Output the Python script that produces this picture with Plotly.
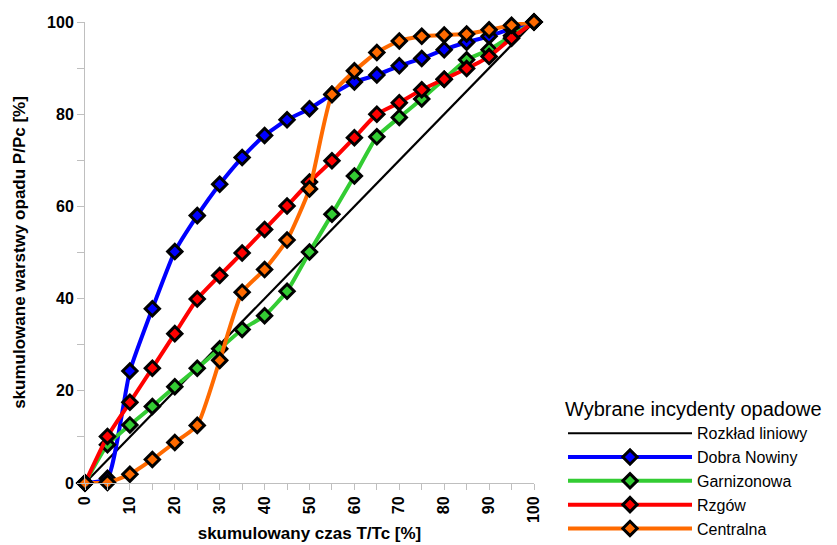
import plotly.graph_objects as go

x_vals = [0, 5, 10, 15, 20, 25, 30, 35, 40, 45, 50, 55, 60, 65, 70, 75, 80, 85, 90, 95, 100]

linear_x = [0, 100]
linear_y = [0, 100]

dobra_nowiny = [0, 1, 24.3, 37.8, 50.2, 58, 64.8, 70.6, 75.4, 78.8, 81.2, 84.3, 87.0, 88.5, 90.5, 92.1, 94.0, 95.6, 96.9, 98.6, 100]
garnizonowa = [0, 8.3, 12.6, 16.6, 20.9, 24.9, 29.1, 33.3, 36.3, 41.6, 50.1, 58.3, 66.6, 75.1, 79.3, 83.3, 87.6, 91.8, 94.0, 97.0, 100]
rzgow = [0, 10.1, 17.5, 24.9, 32.4, 39.9, 45.0, 49.9, 55.0, 60.1, 65.3, 69.9, 74.9, 80.0, 82.5, 85.3, 87.6, 89.9, 92.5, 96.5, 100]
centralna = [0, 0.1, 1.9, 5.1, 8.8, 12.5, 26.6, 41.4, 46.3, 52.7, 63.8, 84.3, 89.4, 93.4, 95.9, 96.9, 97.2, 97.4, 98.3, 99.3, 100]

series = [
    ("Dobra Nowiny", dobra_nowiny, "#0000ff"),
    ("Garnizonowa", garnizonowa, "#33cc33"),
    ("Rzgów", rzgow, "#ff0000"),
    ("Centralna", centralna, "#ff6a00"),
]

fig = go.Figure()
fig.add_trace(go.Scatter(
    x=linear_x, y=linear_y, mode="lines", name="Rozkład liniowy",
    line=dict(color="black", width=2.2), cliponaxis=False,
))
for name, ys, col in series:
    fig.add_trace(go.Scatter(
        x=x_vals, y=ys, mode="lines+markers", name=name,
        line=dict(color=col, width=4, shape="spline", smoothing=0.5),
        marker=dict(symbol="diamond", size=11, color=col,
                    line=dict(color="black", width=3)),
        cliponaxis=False,
    ))

# the page body adds an 8px offset, so the figure is 8px smaller and margins shifted
fig.update_layout(
    width=829, height=537,
    margin=dict(l=77, r=303, t=14, b=62, autoexpand=False),
    paper_bgcolor="white", plot_bgcolor="white",
    font=dict(family="Liberation Sans, Arial", color="black"),
    xaxis=dict(
        range=[0, 100], tickmode="linear", tick0=0, dtick=10, automargin=False,
        showgrid=False, zeroline=False, showline=True, linecolor="#bfbfbf", linewidth=1,
        ticks="outside", ticklen=6, tickcolor="#bfbfbf", tickangle=-90,
        tickfont=dict(family="Liberation Sans, Arial", size=16, color="black", weight="bold"),
        minor=dict(dtick=5, ticks="outside", ticklen=6, tickcolor="#bfbfbf", showgrid=False),
        title=dict(text="skumulowany czas T/Tc [%]", standoff=4,
                   font=dict(family="Liberation Sans, Arial", size=17, color="black", weight="bold")),
    ),
    yaxis=dict(
        range=[0, 100], tickmode="linear", tick0=0, dtick=20, automargin=False,
        showgrid=False, zeroline=False, showline=True, linecolor="#bfbfbf", linewidth=1,
        ticks="outside", ticklen=7, tickcolor="#bfbfbf",
        tickfont=dict(family="Liberation Sans, Arial", size=16, color="black", weight="bold"),
        minor=dict(dtick=10, ticks="outside", ticklen=7, tickcolor="#bfbfbf", showgrid=False),
        title=dict(text="skumulowane warstwy opadu P/Pc [%]", standoff=17,
                   font=dict(family="Liberation Sans, Arial", size=17, color="black", weight="bold")),
    ),
    legend=dict(
        x=1.0646, y=0.201, xanchor="left", yanchor="top",
        title=dict(text="Wybrane incydenty opadowe", side="top",
                   font=dict(family="Liberation Sans, Arial", size=20, color="black")),
        font=dict(family="Liberation Sans, Arial", size=16, color="black"),
        itemwidth=124, tracegroupgap=0, bgcolor="rgba(0,0,0,0)",
    ),
)

fig.write_html("out.html")
